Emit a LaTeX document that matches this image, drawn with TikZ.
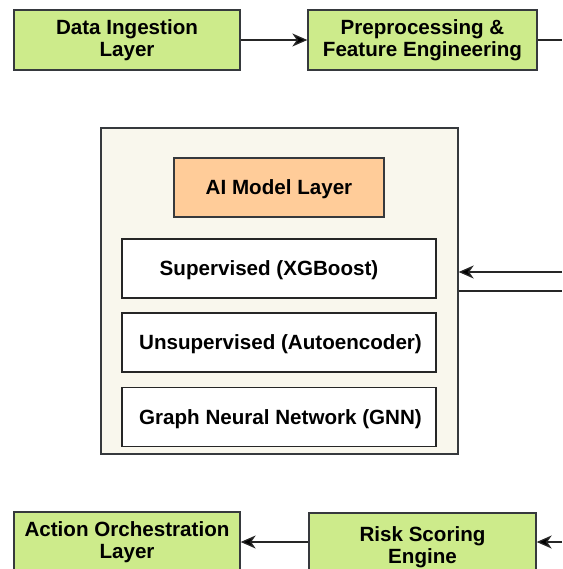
\documentclass[tikz,border=0pt]{standalone}
\usepackage{fontspec}
\setmainfont{Liberation Sans}
\usetikzlibrary{arrows.meta}
\definecolor{boxgreen}{HTML}{CDEB8B}
\definecolor{boxorange}{HTML}{FFCC99}
\definecolor{panelbg}{HTML}{F9F7ED}
\definecolor{strokec}{HTML}{36393D}
\tikzset{
  lbl/.style={font=\bfseries\fontsize{20.6}{21.5}\selectfont, align=center},
  greenbox/.style={lbl, draw=strokec, fill=boxgreen, line width=1.3pt, inner sep=0pt},
  orangebox/.style={lbl, draw=strokec, fill=boxorange, line width=1.3pt, inner sep=0pt, text height=14.7pt, text depth=0pt},
  whitebox/.style={lbl, draw=black!85, fill=white, line width=1.5pt, inner sep=0pt, text height=14.7pt, text depth=0pt},
  panel/.style={draw=strokec, fill=panelbg, line width=1.3pt, inner sep=0pt},
  conn/.style={line width=1.3pt, draw=black!85},
  arr/.style={conn, -{Stealth[length=15pt,width=13pt,inset=4.5pt,fill=black]}}
}
\begin{document}
\begin{tikzpicture}[x=1pt,y=-1pt]
\useasboundingbox (0,0) rectangle (562,569);
% top row
\node[greenbox, minimum width=226pt, minimum height=60pt] (data) at (127,40) {Data Ingestion\\Layer};
\node[greenbox, minimum width=229pt, minimum height=60pt] (prep) at (422.5,40) {Preprocessing \&\\Feature Engineering};
% AI model panel
\node[panel, minimum width=357pt, minimum height=326pt] (panel) at (279.5,291) {};
\node[orangebox, minimum width=210pt, minimum height=59pt] (ai) at (279,187.5) {AI Model Layer};
\node[whitebox, minimum width=314pt, minimum height=59pt] (sup) at (279,268.5) {\hspace*{-20pt}Supervised (XGBoost)};
\node[whitebox, minimum width=314pt, minimum height=59pt] (unsup) at (279,342.5) {\hspace*{3pt}Unsupervised (Autoencoder)};
\node[whitebox, minimum width=314pt, minimum height=59pt] (gnn) at (279,417) {\hspace*{3pt}Graph Neural Network (GNN)};
% bottom row
\node[greenbox, minimum width=226pt, minimum height=60pt] (action) at (127,542) {Action Orchestration\\Layer};
\node[greenbox, minimum width=227pt, minimum height=68pt] (risk) at (422.5,547) {Risk Scoring\\Engine};
% free ends at the right edge
\coordinate (outTop) at (562,40);
\coordinate (inR) at (562,272);
\coordinate (outR) at (562,291);
\coordinate (inB) at (562,542);
% connectors
\draw[arr] (data.east) -- (prep.west);
\draw[conn] (prep.east) -- (outTop);
\draw[arr] (inR) -- (inR -| panel.east);
\draw[conn] (outR -| panel.east) -- (outR);
\draw[arr] (inB) -- (inB -| risk.east);
\draw[arr] (inB -| risk.west) -- (inB -| action.east);
\end{tikzpicture}
\end{document}
